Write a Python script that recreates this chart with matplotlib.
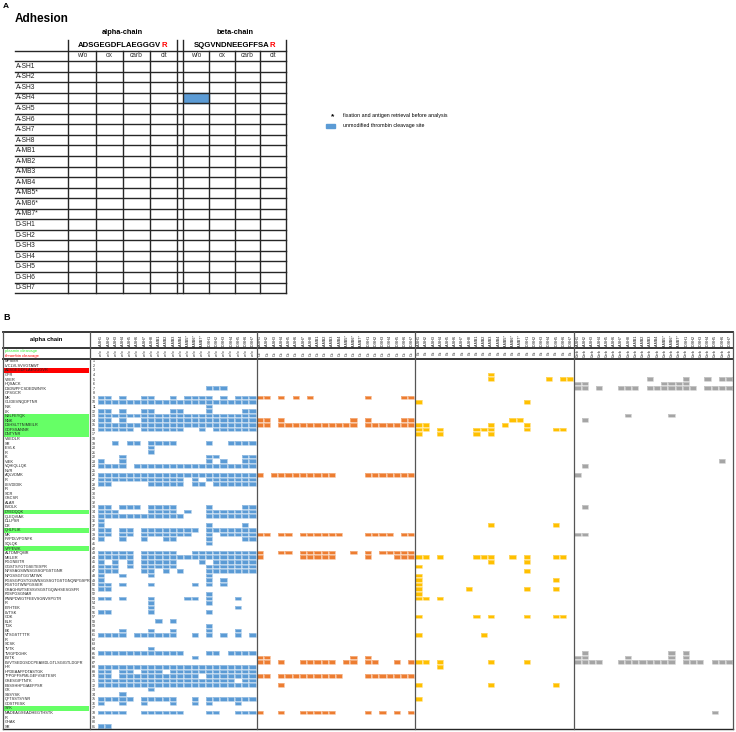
import numpy as np
import matplotlib.pyplot as plt
from matplotlib.colors import ListedColormap
from matplotlib.patches import Rectangle

plt.rcParams['font.family'] = ['Liberation Sans', 'DejaVu Sans']

# ---- data -------------------------------------------------------------
samples = ['A-SH1', 'A-SH2', 'A-SH3', 'A-SH4', 'A-SH5', 'A-SH6', 'A-SH7', 'A-SH8',
           'A-MB1', 'A-MB2', 'A-MB3', 'A-MB4', 'A-MB5*', 'A-MB6*', 'A-MB7*',
           'D-SH1', 'D-SH2', 'D-SH3', 'D-SH4', 'D-SH5', 'D-SH6', 'D-SH7']
mods_a = ['w/o', 'ox', 'carb', 'cit']
alpha_seq = 'ADSGEGDFLAEGGGVR'
beta_seq = 'SQGVNDNEEGFFSAR'
adhesion_hits = [('A-SH4', 'beta', 'w/o')]

mods_b = ['w/o', 'Ox', 'Cit', 'Carb']
peptides = ['MFSMR', 'IVCLVLSVVGTAWT', 'ADSGEGDFLAEGGGVR', 'GPR', 'VVER', 'HQSACK',
            'DSDWPFCSDEDWNYK', 'CPSGCR', 'MK', 'GLIDEVNQDFTNR', 'INK', 'LK', 'NSLFEYQK',
            'NNK', 'DSHSLTTNIMEILR', 'GDFSSANNR', 'DNTYNR', 'VSEDLR', 'SR', 'IEVLK', 'R',
            'K', 'VIEK', 'VQHIQLLQK', 'NVR', 'AQLVDMK', 'R', 'LEVDIDIK', 'IR', 'SCR',
            'GSCSR', 'ALAR', 'EVDLK', 'DYEDQQK', 'QLEQVIAK', 'DLLPSR', 'DR', 'QHLPLIK',
            'MK', 'PVPDLVPGNFK', 'SQLQK', 'VPPEWK', 'ALTDMPQMR', 'MELER', 'PGGNEITR',
            'GGSTSYGTGSETESPR', 'NPSSAGSWNSGSSGPGSTGNR', 'NPGSSGTGGTATWK',
            'PGSSGPGSTGSWNSGSSGTGSTGNQNPGSPR', 'PGSTGTWNPGSSER',
            'GSAGHWTSESSVSGSTGQWHSESGSFR', 'PDSPGSGNAR', 'PNNPDWGTFEEVSGNVSPGTR', 'R',
            'EYHTEK', 'LVTSK', 'GDK', 'ELR', 'TGK', 'EK', 'VTSGSTTTTR', 'R', 'SCSK', 'TVTK',
            'TVIGPDGHK', 'EVTK', 'EVVTSEDGSDCPEAMDLGTLSGIGTLDGFR', 'HR', 'HPDEAAFFDTASTGK',
            'TFPGFFSPMLGEFVSETESR', 'GSESGIFTNTK', 'ESSSHHPGIAEFPSR', 'GK', 'SSSYSK',
            'QFTSSTSYNR', 'GDSTFESK', 'SYK', 'MADEAGSEADHEGTHSTK', 'R', 'GHAK', 'SR']
plasmin_rows = [13, 14, 15, 16, 17, 34, 38, 42, 77]
thrombin_rows = [3]

# detected peptides per row (x = found in that sample)
wo_hits = {
    7: '...............xxx....',
    9: 'xx.x..xx..x.xxxx.x.xxx',
    10: 'xxxxxxxxxxxxxxxxxxxxxx',
    11: '...............x......',
    12: 'xx.x..xx..xx...x....xx',
    13: 'xxxxxxxxxxxxxxxxxxxxxx',
    14: 'xx.x..xxxxxxxxxxxxxxxx',
    15: 'xxxxxxxxxxxxxxxxxxxxxx',
    16: 'xxxxx.xxxxxx..x.xxxxxx',
    19: '..x.xx.xxxx....x..xxxx',
    20: '.......x..............',
    21: '.......x..............',
    22: '...x...........xx...xx',
    23: 'x..x...........x.x..xx',
    24: 'xxxx.xxxxxxxxxxxxxxxxx',
    26: 'xxxxxxxxxxxxxxxxxxxxxx',
    27: 'xxxxxxxxxxxx.x.xxxxxxx',
    28: 'xx.....xxxxx.xx.xxxxxx',
    33: 'xx.xxx.xxxx....x....xx',
    34: 'xxx....xxxx.x..xxxxxxx',
    35: 'xxxxxxxxxxxx...xxxxxxx',
    36: 'x.....................',
    37: 'x..............x....x.',
    38: 'xx.xx.xxxxxxxx.xxxxxxx',
    39: 'xx.xx.xxxxxxx..x.xxxxx',
    40: 'x..x..x..xx....x....xx',
    41: '...............x......',
    43: 'xxxxx.xxxxx..xxxxxxxxx',
    44: 'xxxxx.xxxxxxxxxxxxxxxx',
    45: 'x.x.x.xxxxx...x.xxxxxx',
    46: 'xxx.x.xxxxx....xxxxxxx',
    47: 'xxx...xx.x.x...xxxxxxx',
    48: 'x..x...x.......x......',
    49: 'x..............x.x....',
    50: 'xx.x...x.....x.x.x....',
    51: 'xx....................',
    52: '...............x......',
    53: 'xx.x...x....xx.x...x..',
    54: '.......x.......x......',
    55: '.......x...........x..',
    56: 'xx.....x.......x......',
    58: '........x.x...........',
    59: '...............x......',
    60: '...x...x..x....x...x..',
    61: 'xxxx.xxxxxx..x.x.x.x.x',
    64: '.......x..............',
    65: 'xxxxxxxxxxxx...xx.xxxx',
    66: '.............x........',
    68: 'xxxxxxxxxxxxxxxxxxxxxx',
    69: 'xx.xx.xxx.xxxxxxxxxxxx',
    70: 'xx.xxxxxxxxxxx.xxxxxxx',
    71: 'xxxxxxxxxxxxxxxxxxx.xx',
    72: 'xxxxxxxxxxxxxxxxxxxxxx',
    73: '.......x..............',
    74: '...x..................',
    75: 'xxxxx.xxxxx..x.xxxxxxx',
    76: 'x..x..x...x..x.x...x..',
    78: 'xxxx..xxxxxx...xx..xxx',
    81: 'xx....................',
}
ox_hits = {
    9: 'xx.x.x.x.......x....xx',
    14: 'xx.x.........x.x....xx',
    15: 'xx.xxxxxxxxxxx.xxxxxxx',
    26: 'x.xxxxxxxxx....xxxxxxx',
    39: 'xx.xx.xxxxxx...xxxx.xx',
    43: 'x..xx.xxxxx..x.x.xxxxx',
    44: 'x.....xxxxx....x...xxx',
    66: 'xx...........x.x......',
    67: 'xx.x..xxxxx.xx.xx..x.x',
    70: 'xx.xxxxxxxxx...xxxxxxx',
    72: '...x..................',
    78: 'x..x..xxxxx....x.x.x.x',
}
cit_hits = {
    4: '..........x...........',
    5: '..........x.......x.xx',
    10: 'x..............x......',
    14: '.............xx.......',
    15: 'xx........x.x..x......',
    16: 'xx.x....xxx....x...xx.',
    17: 'x..x....x.x...........',
    37: '..........x........x..',
    44: 'xx.x....xxx..x.x...xx.',
    45: '..........x....x......',
    46: 'x.....................',
    47: '...............x......',
    48: 'x.....................',
    49: 'x..................x..',
    50: 'x.....................',
    51: 'x......x.......x...x..',
    52: 'x.....................',
    53: 'xx.x..................',
    57: 'x.......x.x....x...xx.',
    61: 'x........x............',
    67: 'xx.x......x....x......',
    68: '...x..................',
    72: 'x.........x........x..',
    75: 'x.....................',
}
carb_hits = {
    5: '..........x....x..x.xx',
    6: 'xx..........xxxx......',
    7: 'xx.x..xxx.xxxxxxx.xxxx',
    13: '.......x.....x........',
    14: '.x....................',
    23: '....................x.',
    24: '.x....................',
    26: 'x.....................',
    33: '.x....................',
    39: 'xx....................',
    65: '.x...........x.x......',
    66: 'xx.....x.....x.x......',
    67: 'xxxx..xxxxxxxx.xxx.xxx',
    78: '...................x..',
}

# ---- figure -------------------------------------------------------------
W, H = 736, 732
fig = plt.figure(figsize=(W / 100, H / 100), dpi=100)


def px_axes(x0, y0, x1, y1):
    ax = fig.add_axes([x0 / W, 1 - y1 / H, (x1 - x0) / W, (y1 - y0) / H])
    ax.set_axis_off()
    return ax


line_c = '#262626'
blue = '#5B9BD5'
block_colors = ['#5B9BD5', '#ED7D31', '#FFC000', '#A5A5A5']

# ---- panel A ------------------------------------------------------------
fig.text(3 / W, 1 - 6 / H, 'A', fontsize=6, fontweight='bold', va='center')
fig.text(15 / W, 1 - 19 / H, 'Adhesion', fontsize=8.5, fontweight='bold', va='center')

axa = px_axes(15, 40, 287, 294)
axa.set_xlim(15, 287)
axa.set_ylim(294, 40)

col_edges = {'alpha': np.linspace(68.3, 177.3, 5), 'beta': np.linspace(183.3, 286.2, 5)}
seq_line, sub_line, row_h = 50.5, 61.0, 10.55
n_rows = len(samples)
row_lines = sub_line + row_h * np.arange(n_rows + 1)

for chain, seq, title in [('alpha', alpha_seq, 'alpha-chain'), ('beta', beta_seq, 'beta-chain')]:
    e = col_edges[chain]
    cx = (e[0] + e[-1]) / 2
    axa.text(cx, 32, title, ha='center', va='center', fontsize=5.3, fontweight='bold', clip_on=False)
    t = axa.text(cx - 3, 45.3, seq[:-1], ha='center', va='center', fontsize=5.6, fontweight='bold')
    axa.annotate(seq[-1], xy=(1, 0.5), xycoords=t, va='center', ha='left', fontsize=5.6,
                 fontweight='bold', color='red')
    for k, m in enumerate(mods_a):
        axa.text((e[k] + e[k + 1]) / 2, (seq_line + sub_line) / 2, m, ha='center', va='center',
                 fontsize=4.8, color='#333333')
    # inner verticals
    for xv in e[1:-1]:
        axa.plot([xv, xv], [seq_line, row_lines[-1]], color=line_c, lw=1.0, clip_on=False)
    for xv in (e[0], e[-1]):
        axa.plot([xv, xv], [40, row_lines[-1]], color=line_c, lw=1.0, clip_on=False)

for y in [seq_line, sub_line] + list(row_lines[1:]):
    axa.plot([15, 286.2], [y, y], color=line_c, lw=1.0, clip_on=False)

for i, s in enumerate(samples):
    axa.text(15.5, row_lines[i] + row_h / 2, s, ha='left', va='center', fontsize=4.8, color='#222222')

for s, chain, m in adhesion_hits:
    i = samples.index(s)
    k = mods_a.index(m)
    e = col_edges[chain]
    axa.add_patch(Rectangle((e[k] + 0.5, row_lines[i] + 0.6), e[k + 1] - e[k] - 1, row_h - 1.2,
                            color=blue, zorder=0))

# legend
fig.text(333 / W, 1 - 117 / H, '*', fontsize=6, ha='center', va='center', fontweight='bold')
fig.text(343 / W, 1 - 116 / H, 'fixation and antigen retrieval before analysis', fontsize=3.8, va='center')
fig.patches.append(Rectangle((326 / W, 1 - 127.5 / H), 9 / W, 4 / H, color=blue,
                             transform=fig.transFigure, figure=fig))
fig.text(343 / W, 1 - 125 / H, 'unmodified thrombin cleavage site', fontsize=3.8, va='center')

# ---- panel B ------------------------------------------------------------
fig.text(3 / W, 1 - 317 / H, 'B', fontsize=6.5, fontweight='bold', va='center')

x_lab, x_num, x_dat, x_end = 3, 90, 97.7, 733.3
y_top, y_h1, y_h2, y_bot = 332, 348, 359, 729
n_pep = len(peptides)
n_s = len(samples)

# label column
axl = px_axes(x_lab, y_h2, x_dat, y_bot)
axl.set_xlim(x_lab, x_dat)
axl.set_ylim(n_pep, 0)
axl.barh(np.array(plasmin_rows) - 0.5, x_num - x_lab - 1, left=x_lab, height=1, color='#66FF66')
axl.barh(np.array(thrombin_rows) - 0.5, x_num - x_lab - 1, left=x_lab, height=1, color='#FF0000')
for i, p in enumerate(peptides):
    axl.text(x_lab + 2, i + 0.5, p, ha='left', va='center', fontsize=2.75, color='#222222')
    axl.text((x_num + x_dat) / 2 + 0.3, i + 0.5, str(i + 1), ha='center', va='center',
             fontsize=2.6, color='#222222')

# data cells
axd = px_axes(x_dat, y_h2, x_end, y_bot)
axd.set_xlim(0, 4 * n_s)
axd.set_ylim(n_pep, 0)
for b, (hits, colr) in enumerate(zip([wo_hits, ox_hits, cit_hits, carb_hits], block_colors)):
    grid = np.zeros((n_pep, n_s))
    for row, pat in hits.items():
        for c, ch in enumerate(pat[:n_s]):
            if ch == 'x':
                grid[row - 1, c] = 1
    grid = np.ma.masked_equal(grid, 0)
    axd.pcolormesh(np.arange(b * n_s, (b + 1) * n_s + 1), np.arange(n_pep + 1), grid,
                   cmap=ListedColormap([colr]), edgecolors=(1, 1, 1, 0.35), linewidth=0.3)
    for c, s in enumerate(samples):
        axd.text(b * n_s + c + 0.5, -4.1, s, rotation=90, ha='center', va='center',
                 fontsize=2.7, color='#111111', clip_on=False)
        axd.text(b * n_s + c + 0.5, -1.25, mods_b[b], rotation=90, ha='center', va='center',
                 fontsize=2.6, color='#222222', clip_on=False)

# frame
axf = px_axes(x_lab, y_top, x_end, y_bot)
axf.set_xlim(x_lab, x_end)
axf.set_ylim(y_bot, y_top)
for y, lw in [(y_top, 1.3), (y_h1, 1.3), (y_h2, 1.3), (y_bot, 1.0)]:
    axf.plot([x_lab, x_end], [y, y], color=line_c, lw=lw, clip_on=False)
block_w = (x_end - x_dat) / 4
for xv in [x_lab, x_num] + [x_dat + block_w * k for k in range(1, 5)]:
    axf.plot([xv, xv], [y_top, y_bot], color='#555555', lw=0.9, clip_on=False)
axf.text((x_lab + x_num) / 2, (y_top + y_h1) / 2, 'alpha chain', ha='center', va='center',
         fontsize=4.2, fontweight='bold')
axf.text(x_lab + 2, 351.3, 'plasmin cleavage', ha='left', va='center', fontsize=3.1, color='#33EE33')
axf.text(x_lab + 2, 355.8, 'thrombin cleavage', ha='left', va='center', fontsize=3.1, color='#FF0000')

fig.savefig('out.png', dpi=100)
